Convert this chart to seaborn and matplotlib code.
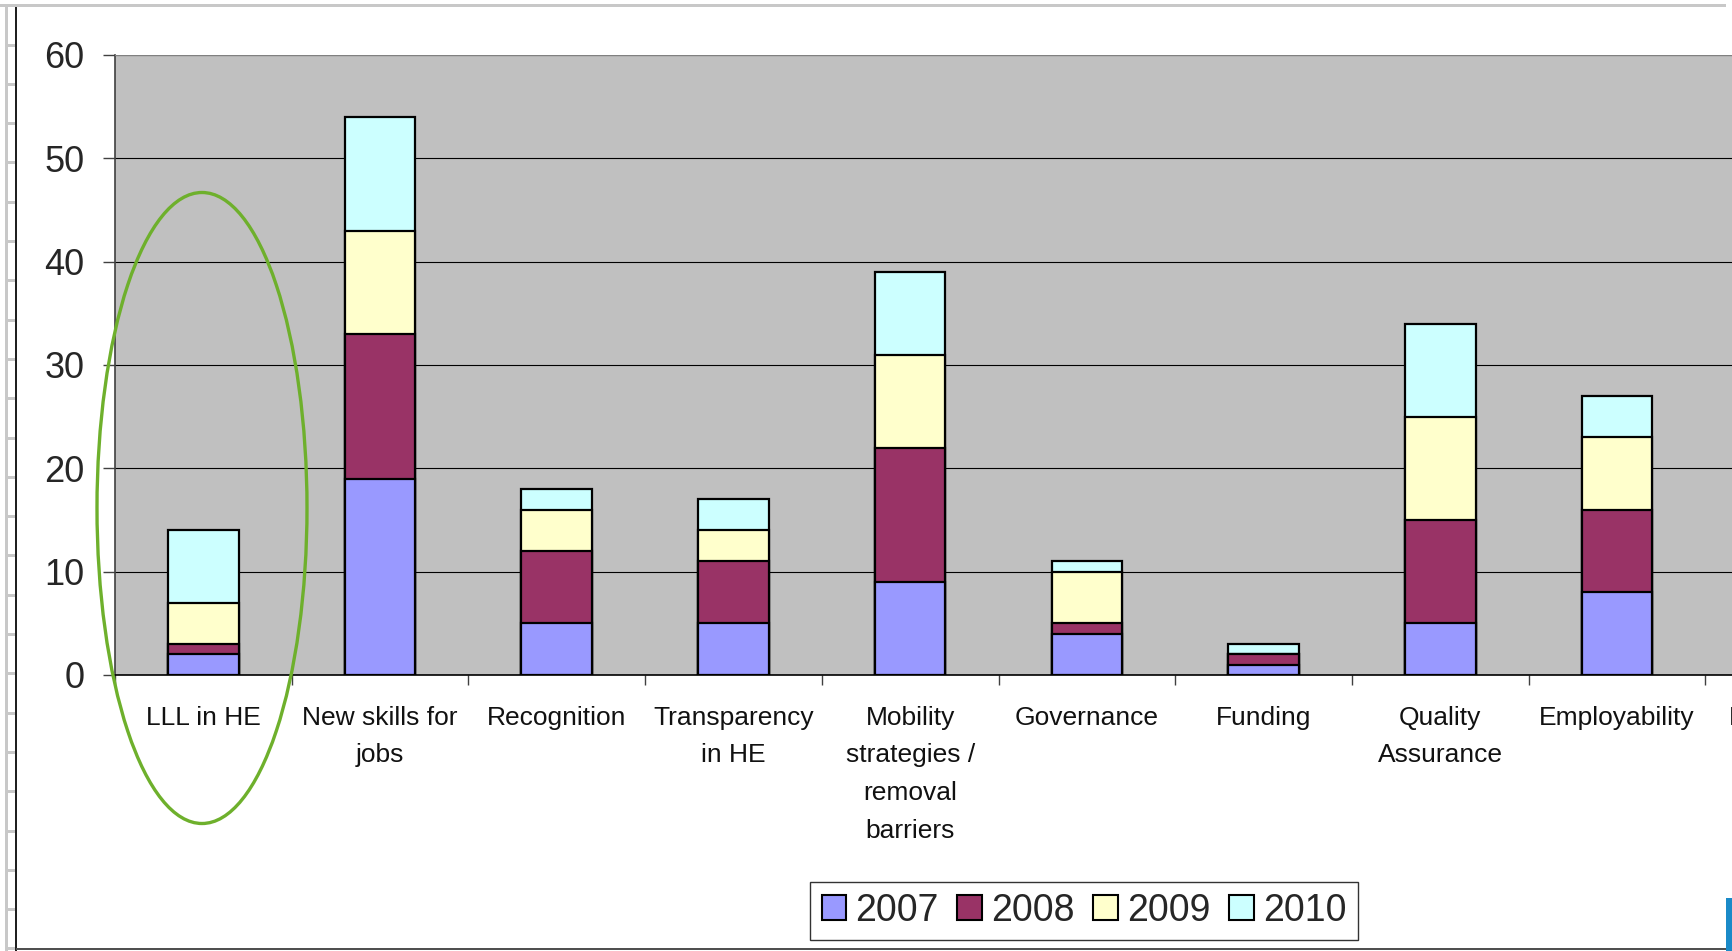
import numpy as np
import pandas as pd
import seaborn as sns
import matplotlib.pyplot as plt
from matplotlib.patches import Patch, Ellipse, Rectangle

categories = ["LLL in HE", "New skills for jobs", "Recognition", "Transparency in HE",
              "Mobility strategies / removal barriers", "Governance", "Funding",
              "Quality Assurance", "Employability", "Knowledge triangle"]
tick_labels = ["LLL in HE", "New skills for\njobs", "Recognition", "Transparency\nin HE",
               "Mobility\nstrategies /\nremoval\nbarriers", "Governance", "Funding",
               "Quality\nAssurance", "Employability", "Knowledge\ntriangle"]
years = ["2007", "2008", "2009", "2010"]
# last category is cut off at the right edge of the picture, values unknown
v2007 = [2, 19, 5, 5, 9, 4, 1, 5, 8, np.nan]
v2008 = [1, 14, 7, 6, 13, 1, 1, 10, 8, np.nan]
v2009 = [4, 10, 4, 3, 9, 5, 0, 10, 7, np.nan]
v2010 = [7, 11, 2, 3, 8, 1, 1, 9, 4, np.nan]
colors = ["#9999FF", "#993366", "#FFFFCC", "#CCFFFF"]

W, H = 1732, 951

df = pd.DataFrame({"category": categories, "2007": v2007, "2008": v2008,
                   "2009": v2009, "2010": v2010})
cum = df[years].cumsum(axis=1)
cum["category"] = df["category"]

sns.set_style("white")
plt.rcParams["font.family"] = ["Liberation Sans", "DejaVu Sans"]

fig = plt.figure(figsize=(W / 100, H / 100), dpi=100)
ax = fig.add_axes([115 / W, 1 - 675 / H, 1767 / W, 620 / H])
ax.set_facecolor("#C0C0C0")

# stacked bars: draw running totals from the top segment down
for year, col in zip(years[::-1], colors[::-1]):
    sns.barplot(data=cum, x="category", y=year, order=categories, color=col,
                saturation=1, width=0.4, edgecolor="black", linewidth=1.6,
                errorbar=None, ax=ax, zorder=3)

ax.set_xlim(-0.5, len(categories) - 0.5)
ax.set_ylim(0, 60)
ax.set_yticks(range(0, 61, 10))
ax.grid(axis="y", color="black", linewidth=0.8, zorder=1)
ax.set_axisbelow(True)
ax.set_xlabel("")
ax.set_ylabel("")

ax.set_xticks(range(len(categories)))
ax.set_xticklabels(tick_labels, fontsize=19, linespacing=1.72, color="#111111")
ax.set_xticks(np.arange(-0.5, len(categories)), minor=True)
ax.tick_params(axis="x", which="major", length=0, pad=22)
ax.tick_params(axis="x", which="minor", length=7, width=1, color="#404040",
               direction="out", bottom=True)
ax.tick_params(axis="y", labelsize=26, length=9, width=1, color="#404040",
               direction="out", left=True, pad=13)

for side in ["top", "right"]:
    ax.spines[side].set_visible(False)
ax.spines["left"].set_color("#404040")
ax.spines["bottom"].set_color("black")
ax.spines["left"].set_linewidth(1.2)
ax.spines["bottom"].set_linewidth(1.2)
ax.axhline(60, color="#808080", linewidth=1.5, zorder=4)

handles = [Patch(facecolor=c, edgecolor="black", linewidth=1.5, label=y)
           for y, c in zip(years, colors)]
leg = fig.legend(handles=handles, loc="center", ncol=4,
                 bbox_to_anchor=(1084 / W, 1 - 911 / H), fontsize=27,
                 frameon=True, fancybox=False, edgecolor="black",
                 handlelength=0.65, handleheight=0.65, handletextpad=0.25,
                 columnspacing=0.5, borderpad=0.3, borderaxespad=0)
leg.get_frame().set_linewidth(1.0)

# green highlight around the first category
fig.add_artist(Ellipse((202 / W, 1 - 508 / H), 210 / W, 631 / H,
                       transform=fig.transFigure, fill=False,
                       edgecolor="#6EB02C", linewidth=2.4))

# slide frame bits from the screenshot
def px_rect(x0, y0, x1, y1, color):
    fig.add_artist(Rectangle((x0 / W, 1 - y1 / H), (x1 - x0) / W, (y1 - y0) / H,
                             transform=fig.transFigure, facecolor=color,
                             edgecolor="none"))

px_rect(0, 4, 1726, 7, "#C8C8C8")
px_rect(5, 4, 8, 951, "#C8C8C8")
for y in np.arange(45, 951, 39.3):
    px_rect(8, y - 1.5, 16, y + 1.5, "#C8C8C8")
px_rect(15, 7, 17, 951, "#202020")
px_rect(16, 948, 1726, 950, "#505050")
px_rect(1726, 898, 1732, 951, "#1A8AC8")

fig.savefig("out.png", dpi=100)
